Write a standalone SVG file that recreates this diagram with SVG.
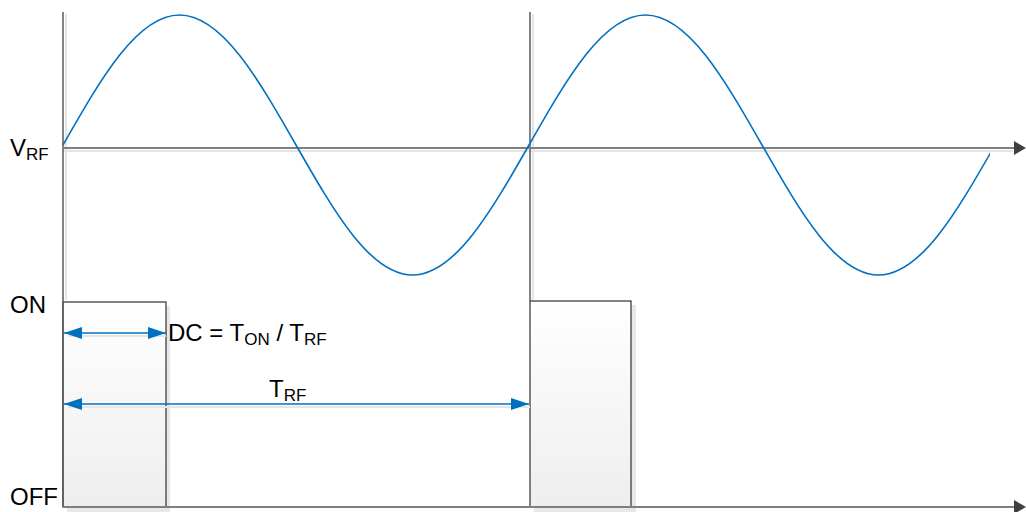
<svg xmlns="http://www.w3.org/2000/svg" width="1026" height="512" viewBox="0 0 1026 512">
<style>
.axis{stroke:#7f7f7f;stroke-width:2;fill:none}
.vline{stroke:#5a5a5a;stroke-width:1.5;fill:none}
.shadow{stroke:#e4e4e4;stroke-width:2;fill:none}
.wave{stroke:#0070c0;stroke-width:1.6;fill:none}
.dim{stroke:#0070c0;stroke-width:1.5;fill:none}
.pulse{fill:url(#pg);stroke:#404040;stroke-width:1.3}
.pshadow{fill:#e8e8e8}
.lbl{font-family:"Liberation Sans",Arial,sans-serif;font-size:24px;fill:#000}
.sub{font-size:17px}
</style>
<defs>
<linearGradient id="pg" x1="0" y1="0" x2="0" y2="1">
<stop offset="0" stop-color="#ffffff"/>
<stop offset="1" stop-color="#eeeeee"/>
</linearGradient>
<marker id="ax" markerWidth="12" markerHeight="14" refX="0" refY="7" orient="auto" markerUnits="userSpaceOnUse">
<path d="M0,0 L12,7 L0,14 Z" fill="#404040"/>
</marker>
<marker id="ae" markerWidth="18" markerHeight="12" refX="18" refY="6" orient="auto" markerUnits="userSpaceOnUse">
<path d="M0,0 L18,6 L0,12 Z" fill="#0070c0"/>
</marker>
<marker id="as" markerWidth="18" markerHeight="12" refX="0" refY="6" orient="auto" markerUnits="userSpaceOnUse">
<path d="M18,0 L0,6 L18,12 Z" fill="#0070c0"/>
</marker>
<clipPath id="wc"><rect x="0" y="0" width="990" height="512"/></clipPath>
</defs>

<g id="pulse1">
<rect class="pshadow" x="67" y="306" width="103" height="206"/>
<rect class="pulse" x="63" y="302" width="103" height="205"/>
</g>
<g id="pulse2">
<rect class="pshadow" x="534" y="305" width="102" height="207"/>
<rect class="pulse" x="530" y="301" width="101" height="206"/>
</g>

<g id="axes">
<line class="shadow" x1="66" y1="14" x2="66" y2="300"/>
<line class="shadow" x1="533" y1="14" x2="533" y2="300"/>
<line class="shadow" x1="63" y1="151" x2="1013" y2="151"/>
<line class="vline" x1="63" y1="12" x2="63" y2="507"/>
<line class="vline" x1="530" y1="12" x2="530" y2="301"/>
<line class="axis" x1="63" y1="148" x2="1014" y2="148" marker-end="url(#ax)"/>
<line class="axis" x1="63" y1="507" x2="1014" y2="507" marker-end="url(#ax)"/>
</g>

<g id="wave" clip-path="url(#wc)">
<path class="wave" d="M63,145 C101,78.4 137.3,15 179.5,15 C221.7,15 258,78.4 296,145 C334,211.6 370.3,275 412.5,275 C454.7,275 491,211.6 529,145 C567,78.4 603.3,15 645.5,15 C687.7,15 724,78.4 762,145 C800,211.6 836.3,275 878.5,275 C920.7,275 957,211.6 995,145"/>
</g>

<g id="connectors">
<line x1="68" y1="336" x2="166" y2="336" stroke="#e6e6e6" stroke-width="2"/>
<line x1="68" y1="407" x2="530" y2="407" stroke="#e6e6e6" stroke-width="2"/>
<line class="dim" x1="64" y1="333" x2="166" y2="333" marker-start="url(#as)" marker-end="url(#ae)"/>
<line class="dim" x1="64" y1="404" x2="529" y2="404" marker-start="url(#as)" marker-end="url(#ae)"/>
</g>

<g id="labels">
<text class="lbl" x="10" y="156">V<tspan class="sub" dy="4">RF</tspan></text>
<text class="lbl" x="10" y="313">ON</text>
<text class="lbl" x="10" y="505">OFF</text>
<text class="lbl" x="168" y="341">DC = T<tspan class="sub" dy="4">ON</tspan><tspan dy="-4"> / T</tspan><tspan class="sub" dy="4">RF</tspan></text>
<text class="lbl" x="269" y="397">T<tspan class="sub" dy="4">RF</tspan></text>
</g>
</svg>
